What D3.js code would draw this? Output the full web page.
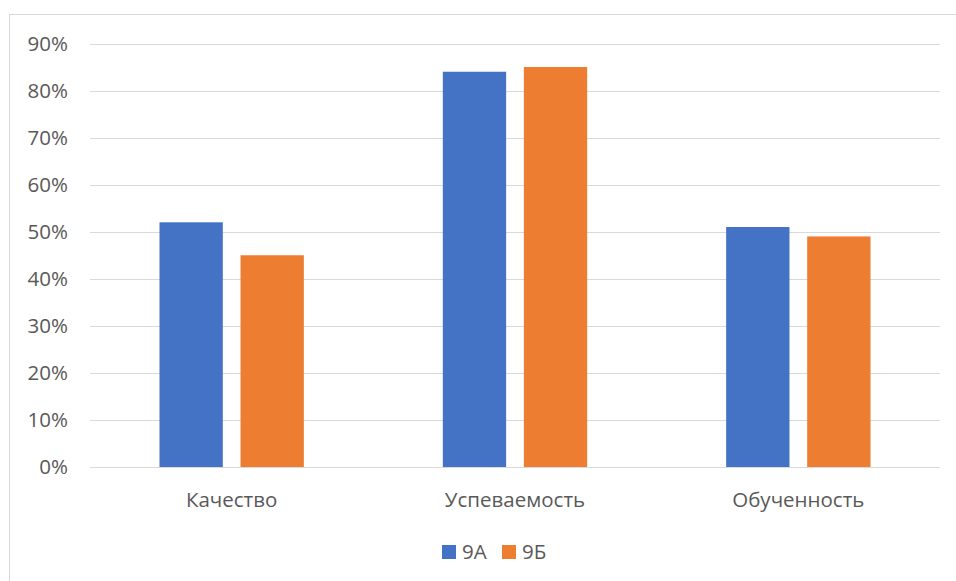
<!DOCTYPE html>
<html>
<head>
<meta charset="utf-8">
<script src="https://cdn.jsdelivr.net/npm/d3@7"></script>
<style>
  html, body { margin: 0; padding: 0; background: #fff; }
  svg { display: block; }
  text { font-family: "Open Sans", "Noto Sans", sans-serif; fill: #595959; }
</style>
</head>
<body>
<svg id="chart" width="956" height="581"></svg>
<script>
// Chart data
const categories = ["Качество", "Успеваемость", "Обученность"];
const seriesNames = ["9А", "9Б"];
const values9A = [0.52, 0.84, 0.51];
const values9B = [0.45, 0.85, 0.49];
const yTicks = [0, 0.1, 0.2, 0.3, 0.4, 0.5, 0.6, 0.7, 0.8, 0.9];
const colors = ["#4472C4", "#ED7D31"];

const seriesValues = [values9A, values9B];

const svg = d3.select("#chart");
const W = 956, H = 581;
const FS = 20.5;

// Outer chart frame (runs off the right and bottom edges)
svg.append("rect")
  .attr("x", 9.5).attr("y", 14.5)
  .attr("width", W + 10).attr("height", H + 10)
  .attr("fill", "#fff").attr("stroke", "#D9D9D9").attr("stroke-width", 1);

const plot = { left: 90, right: 940, top: 43.5, bottom: 467 };

const x0 = d3.scaleBand()
  .domain(categories)
  .range([plot.left, plot.right])
  .paddingInner(0).paddingOuter(0);

const x1 = d3.scaleBand()
  .domain(seriesNames)
  .range([0, x0.bandwidth()])
  .paddingInner(0.2185)
  .paddingOuter(0.8575);

const y = d3.scaleLinear()
  .domain([0, 0.9])
  .range([plot.bottom, plot.top]);

// Gridlines
svg.append("g")
  .selectAll("line")
  .data(yTicks)
  .join("line")
  .attr("x1", plot.left).attr("x2", plot.right)
  .attr("y1", d => Math.round(y(d)) + 0.5)
  .attr("y2", d => Math.round(y(d)) + 0.5)
  .attr("stroke", "#D9D9D9").attr("stroke-width", 1);

// Y tick labels
svg.append("g")
  .selectAll("text")
  .data(yTicks)
  .join("text")
  .attr("x", 68)
  .attr("y", d => y(d))
  .attr("dy", "0.35em")
  .attr("text-anchor", "end")
  .attr("font-size", FS)
  .text(d => d3.format(".0%")(d));

// Bars
const groups = svg.append("g")
  .selectAll("g")
  .data(categories)
  .join("g")
  .attr("transform", c => `translate(${x0(c)},0)`);

groups.selectAll("rect")
  .data((c, i) => seriesNames.map((s, j) => ({ s, v: seriesValues[j][i], j })))
  .join("rect")
  .attr("x", d => x1(d.s))
  .attr("width", x1.bandwidth())
  .attr("y", d => y(d.v))
  .attr("height", d => y(0) - y(d.v))
  .attr("fill", d => colors[d.j]);

// Category labels
svg.append("g")
  .selectAll("text")
  .data(categories)
  .join("text")
  .attr("x", c => x0(c) + x0.bandwidth() / 2)
  .attr("y", 500)
  .attr("dy", "0.35em")
  .attr("text-anchor", "middle")
  .attr("font-size", FS)
  .text(c => c);

// Legend
const legendItems = [
  { name: seriesNames[0], color: colors[0], x: 442 },
  { name: seriesNames[1], color: colors[1], x: 502 }
];
const lg = svg.append("g");
legendItems.forEach(it => {
  lg.append("rect")
    .attr("x", it.x).attr("y", 545)
    .attr("width", 14).attr("height", 14)
    .attr("fill", it.color);
  lg.append("text")
    .attr("x", it.x + 20).attr("y", 552)
    .attr("dy", "0.35em")
    .attr("font-size", FS)
    .text(it.name);
});
</script>
</body>
</html>
